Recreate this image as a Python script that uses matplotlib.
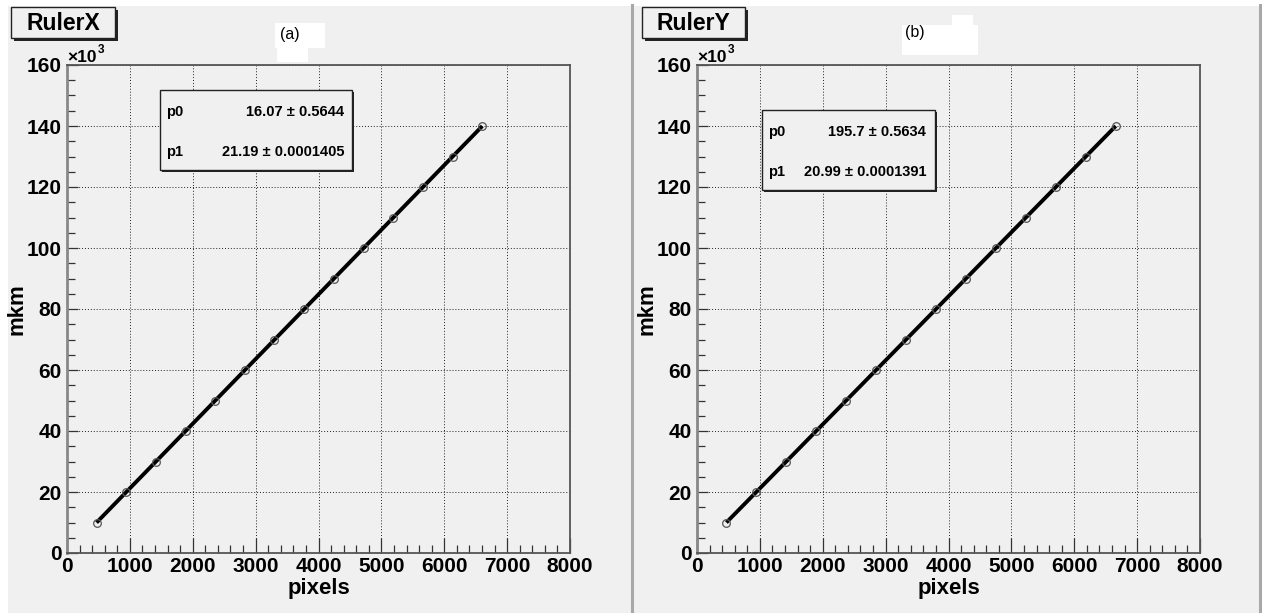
import matplotlib
matplotlib.use("Agg")
import matplotlib.pyplot as plt
from matplotlib.patches import Rectangle
from matplotlib.ticker import MultipleLocator, FuncFormatter
import numpy as np

# ---------------- data ----------------
mkm_values = [10000, 20000, 30000, 40000, 50000, 60000, 70000,
              80000, 90000, 100000, 110000, 120000, 130000, 140000]
pixels_x = [470, 940, 1415, 1885, 2360, 2830, 3300,
            3775, 4245, 4720, 5190, 5665, 6135, 6605]
pixels_y = [467, 943, 1420, 1896, 2373, 2849, 3326,
            3802, 4278, 4755, 5231, 5708, 6184, 6660]
panel_titles = ["RulerX", "RulerY"]
panel_tags = ["(a)", "(b)"]
fit_p0 = [16.07, 195.7]
fit_p1 = [21.19, 20.99]
p0_text = ["16.07 \u00b1 0.5644", "195.7 \u00b1 0.5634"]
p1_text = ["21.19 \u00b1 0.0001405", "20.99 \u00b1 0.0001391"]
x_label = "pixels"
y_label = "mkm"

W, H = 1266, 613
fig = plt.figure(figsize=(W / 100, H / 100), dpi=100)
fig.patch.set_facecolor("white")
FONT = "Liberation Sans"
BG = "#f0f0f0"


def fx(px):
    return px / W


def fy(py):
    return 1 - py / H


def frect(x0, y0, x1, y1, **kw):
    r = Rectangle((fx(x0), fy(y1)), fx(x1) - fx(x0), fy(y0) - fy(y1),
                  transform=fig.transFigure, **kw)
    fig.add_artist(r)
    return r


# background
frect(8, 6, 1260, 613, facecolor=BG, edgecolor="none", zorder=-10)
for xx in (632, 1260):
    fig.add_artist(plt.Line2D([fx(xx), fx(xx)], [fy(5), fy(613)],
                              transform=fig.transFigure, color="#a8a8a8", lw=2.2))

axes_left_px = [67, 697]
pix_series = [pixels_x, pixels_y]
title_boxes = [(11, 7, 115, 38), (642, 7, 745, 38)]
stat_boxes = [(160, 90, 352, 170), (762, 110, 935, 190)]
stat_pos = [(166, 112, 344, 152), (768, 132, 926, 172)]
tag_pos = [(290, 35), (915, 33)]
white_patches = [[(275, 23, 325, 48), (277, 48, 308, 62)],
                 [(902, 25, 978, 55), (952, 15, 973, 25)]]

for i in range(2):
    x0 = axes_left_px[i]
    ax = fig.add_axes([fx(x0), fy(553), fx(503), 488 / H])
    ax.set_facecolor(BG)
    ax.set_xlim(0, 8000)
    ax.set_ylim(0, 160000)
    xs = pix_series[i]
    # fit line from model parameters
    xl = np.array([xs[0], xs[-1]])
    ax.plot(xl, fit_p0[i] + fit_p1[i] * xl, color="black", lw=2.8, zorder=3,
            solid_capstyle="butt")
    ax.plot(xs, mkm_values, linestyle="none", marker="o", markersize=5.5,
            markerfacecolor="none", markeredgecolor="#555555", markeredgewidth=0.9,
            zorder=4)
    ax.xaxis.set_major_locator(MultipleLocator(1000))
    ax.xaxis.set_minor_locator(MultipleLocator(200))
    ax.yaxis.set_major_locator(MultipleLocator(20000))
    ax.yaxis.set_minor_locator(MultipleLocator(5000))
    ax.yaxis.set_major_formatter(FuncFormatter(lambda v, p: f"{int(round(v / 1000))}"))
    ax.xaxis.set_major_formatter(FuncFormatter(lambda v, p: f"{int(round(v))}"))
    ax.tick_params(which="major", direction="in", length=11, width=0.9,
                   color="#333333", labelsize=15, pad=3)
    ax.tick_params(which="minor", direction="in", length=6, width=0.9,
                   color="#333333")
    ax.tick_params(axis="y", which="major", length=8)
    ax.tick_params(axis="y", pad=4)
    for lab in ax.get_xticklabels() + ax.get_yticklabels():
        lab.set_fontfamily(FONT)
        lab.set_fontweight("bold")
    ax.grid(True, which="major", color="#222222", linestyle=(0, (1, 2)), lw=0.7)
    for s in ax.spines.values():
        s.set_color("#555555")
        s.set_linewidth(1.3)
    ax.spines["left"].set_color("#888888")
    ax.spines["left"].set_linewidth(2)
    ax.set_xlabel(x_label, fontsize=16, fontweight="bold", fontfamily=FONT, labelpad=1)
    ax.set_ylabel(y_label, fontsize=16, fontweight="bold", fontfamily=FONT)
    ax.yaxis.set_label_coords((28 - 67) / 503, 0.5)

    # x10^3 label
    fig.text(fx(x0), fy(62), "\u00d710", fontsize=12.5, fontfamily=FONT,
             fontweight="bold", ha="left", va="baseline")
    fig.text(fx(x0 + 31), fy(53), "3", fontsize=8.5, fontfamily=FONT,
             fontweight="bold", ha="left", va="baseline")

    # title box with shadow
    bx0, by0, bx1, by1 = title_boxes[i]
    frect(bx0 + 3, by0 + 3, bx1 + 3, by1 + 3, facecolor="#222222", edgecolor="none", zorder=5)
    frect(bx0, by0, bx1, by1, facecolor=BG, edgecolor="#222222", lw=1, zorder=6)
    fig.text(fx((bx0 + bx1) / 2), fy((by0 + by1) / 2 + 1), panel_titles[i],
             fontsize=16.5, fontweight="bold", fontfamily=FONT,
             ha="center", va="center", zorder=7)

    # white patches and tag
    for (a0, b0, a1, b1) in white_patches[i]:
        frect(a0, b0, a1, b1, facecolor="white", edgecolor="none", zorder=5)
    tx, ty = tag_pos[i]
    fig.text(fx(tx), fy(ty), panel_tags[i], fontsize=11.5, fontfamily=FONT,
             ha="center", va="center", zorder=7)

    # stats box
    sx0, sy0, sx1, sy1 = stat_boxes[i]
    frect(sx0 + 2, sy0 + 2, sx1 + 2, sy1 + 2, facecolor="#222222", edgecolor="none", zorder=8)
    frect(sx0, sy0, sx1, sy1, facecolor=BG, edgecolor="#222222", lw=1, zorder=9)
    lx, ly0, rx, ly1 = stat_pos[i]
    for lbl, yy, val in (("p0", ly0, p0_text[i]), ("p1", ly1, p1_text[i])):
        fig.text(fx(lx), fy(yy), lbl, fontsize=10.5, fontweight="bold", fontfamily=FONT,
                 ha="left", va="center", zorder=10)
        fig.text(fx(rx), fy(yy), val, fontsize=10.5, fontweight="bold", fontfamily=FONT,
                 ha="right", va="center", zorder=10)

fig.savefig("out.png", dpi=100, facecolor=fig.get_facecolor())
